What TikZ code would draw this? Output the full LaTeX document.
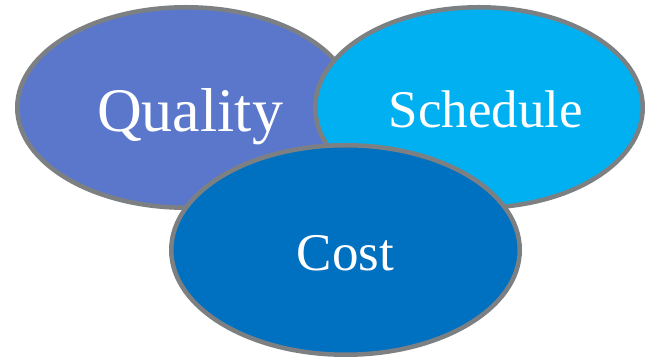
\documentclass[tikz,border=0pt]{standalone}
\usepackage{fontspec}
\setmainfont{Liberation Serif}
\usetikzlibrary{shapes.geometric}
\definecolor{qualblue}{RGB}{91,119,204}
\definecolor{schedblue}{RGB}{0,176,240}
\definecolor{costblue}{RGB}{0,112,192}
\definecolor{rimgray}{RGB}{125,128,131}
\begin{document}
\begin{tikzpicture}[x=1pt,y=1pt, blob/.style={ellipse, draw=rimgray, line width=4.5pt, inner sep=0pt}, word/.style={anchor=base, text=white, inner sep=0pt}]
                        \useasboundingbox (0,0) rectangle (651,361);

                        \node[blob, fill=qualblue, minimum width=337.5pt, minimum height=200.5pt] (qual) at (186,253.5) {};
                        \node[blob, fill=schedblue, minimum width=327.5pt, minimum height=200.5pt] (sched) at (479,253.5) {};
                        \node[blob, fill=costblue, minimum width=348.5pt, minimum height=209.5pt] (cost) at (345.5,111) {};

                        \node[word, font=\fontsize{62}{62}\selectfont] (qualtext) at ([xshift=4pt,yshift=-24.5pt]qual.center) {Quality};
                        \node[word, font=\fontsize{53}{53}\selectfont] (schedtext) at ([xshift=7pt,yshift=-20.5pt]sched.center) {Schedule};
                        \node[word, font=\fontsize{53}{53}\selectfont] (costtext) at ([yshift=-21pt]cost.center) {Cost};
                    \end{tikzpicture}
\end{document}
